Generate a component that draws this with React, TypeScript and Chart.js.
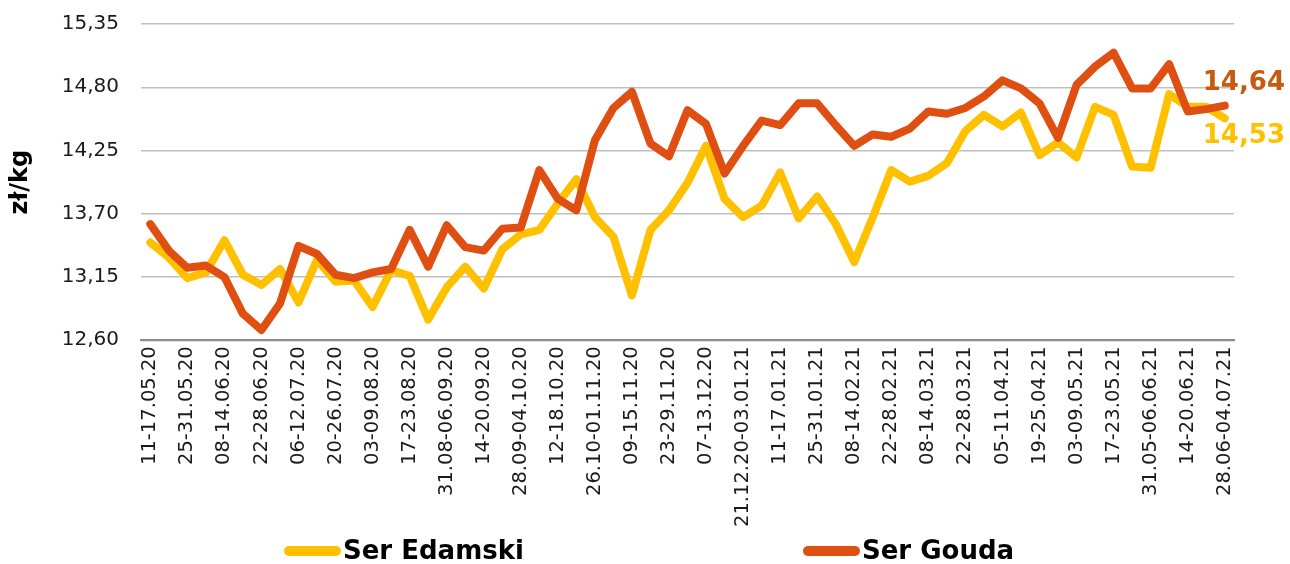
import React, { useEffect, useRef } from 'react';
import { Chart, registerables } from 'chart.js';

Chart.register(...registerables);

const weekLabels: string[] = [
  '11-17.05.20', '18-24.05.20', '25-31.05.20', '01-07.06.20', '08-14.06.20', '15-21.06.20',
  '22-28.06.20', '29.06-05.07.20', '06-12.07.20', '13-19.07.20', '20-26.07.20', '27.07-02.08.20',
  '03-09.08.20', '10-16.08.20', '17-23.08.20', '24-30.08.20', '31.08-06.09.20', '07-13.09.20',
  '14-20.09.20', '21-27.09.20', '28.09-04.10.20', '05-11.10.20', '12-18.10.20', '19-25.10.20',
  '26.10-01.11.20', '02-08.11.20', '09-15.11.20', '16-22.11.20', '23-29.11.20', '30.11-06.12.20',
  '07-13.12.20', '14-20.12.20', '21.12.20-03.01.21', '04-10.01.21', '11-17.01.21', '18-24.01.21',
  '25-31.01.21', '01-07.02.21', '08-14.02.21', '15-21.02.21', '22-28.02.21', '01-07.03.21',
  '08-14.03.21', '15-21.03.21', '22-28.03.21', '29.03-04.04.21', '05-11.04.21', '12-18.04.21',
  '19-25.04.21', '26.04-02.05.21', '03-09.05.21', '10-16.05.21', '17-23.05.21', '24-30.05.21',
  '31.05-06.06.21', '07-13.06.21', '14-20.06.21', '21-27.06.21', '28.06-04.07.21',
];

const serEdamski: number[] = [
  13.45, 13.32, 13.14, 13.19, 13.47, 13.17, 13.08, 13.22, 12.93, 13.30,
  13.11, 13.12, 12.89, 13.21, 13.16, 12.78, 13.06, 13.24, 13.05, 13.39,
  13.52, 13.56, 13.79, 14.00, 13.67, 13.50, 12.99, 13.56, 13.73, 13.97,
  14.29, 13.83, 13.67, 13.77, 14.06, 13.66, 13.85, 13.61, 13.28, 13.67,
  14.08, 13.98, 14.03, 14.14, 14.42, 14.56, 14.46, 14.58, 14.21, 14.32,
  14.19, 14.63, 14.56, 14.11, 14.10, 14.74, 14.63, 14.63, 14.53,
];

const serGouda: number[] = [
  13.61, 13.38, 13.23, 13.25, 13.15, 12.83, 12.69, 12.92, 13.42, 13.35,
  13.17, 13.14, 13.19, 13.22, 13.56, 13.24, 13.60, 13.41, 13.38, 13.57,
  13.58, 14.08, 13.83, 13.73, 14.34, 14.62, 14.76, 14.31, 14.20, 14.60,
  14.48, 14.05, 14.29, 14.51, 14.47, 14.66, 14.66, 14.47, 14.29, 14.39,
  14.37, 14.44, 14.59, 14.57, 14.62, 14.72, 14.86, 14.79, 14.66, 14.36,
  14.82, 14.98, 15.10, 14.79, 14.79, 15.00, 14.59, 14.61, 14.64,
];

const yMin = 12.6;
const yMax = 15.35;
const yStep = 0.55;
const yTitle = 'zł/kg';
const seriesNames: string[] = ['Ser Edamski', 'Ser Gouda'];
const seriesColors: string[] = ['#FFC000', '#E04F12'];
const endLabelColors: string[] = ['#FFC000', '#C55A11'];

const FONT = '"DejaVu Sans", Verdana, sans-serif';
const fmt = (v: number) => v.toFixed(2).replace('.', ',');

const endLabelPlugin = {
  id: 'endLabels',
  afterDatasetsDraw(chart: any) {
    const ctx = chart.ctx;
    ctx.save();
    ctx.font = `bold 26px ${FONT}`;
    ctx.textAlign = 'left';
    ctx.textBaseline = 'middle';
    chart.data.datasets.forEach((ds: any, i: number) => {
      const meta = chart.getDatasetMeta(i);
      const pt = meta.data[meta.data.length - 1];
      const v = ds.data[ds.data.length - 1];
      const dy = i === 1 ? -22 : 18;
      ctx.fillStyle = endLabelColors[i];
      ctx.fillText(fmt(v), pt.x - 22, pt.y + dy);
    });
    ctx.restore();
  },
};

const legendPlugin = {
  id: 'bottomLegend',
  afterDraw(chart: any) {
    const ctx = chart.ctx;
    const y = 551;
    const starts = [284, 803];
    ctx.save();
    ctx.font = `bold 26px ${FONT}`;
    ctx.textAlign = 'left';
    ctx.textBaseline = 'middle';
    chart.data.datasets.forEach((ds: any, i: number) => {
      const x = starts[i];
      ctx.strokeStyle = ds.borderColor;
      ctx.lineWidth = 10;
      ctx.lineCap = 'round';
      ctx.beginPath();
      ctx.moveTo(x + 5, y);
      ctx.lineTo(x + 52, y);
      ctx.stroke();
      ctx.fillStyle = '#000000';
      ctx.fillText(ds.label, x + 59, y + 1);
    });
    ctx.restore();
  },
};

export default function App() {
  const canvasRef = useRef<HTMLCanvasElement | null>(null);

  useEffect(() => {
    document.body.style.margin = '0';
    const canvas = canvasRef.current;
    if (!canvas) return;
    const chart = new Chart(canvas, {
      type: 'line',
      data: {
        labels: weekLabels,
        datasets: [
          {
            label: seriesNames[0],
            data: serEdamski,
            borderColor: seriesColors[0],
            backgroundColor: seriesColors[0],
            borderWidth: 8,
            pointRadius: 0,
            tension: 0,
            borderCapStyle: 'round',
            borderJoinStyle: 'round',
            order: 1,
          },
          {
            label: seriesNames[1],
            data: serGouda,
            borderColor: seriesColors[1],
            backgroundColor: seriesColors[1],
            borderWidth: 8,
            pointRadius: 0,
            tension: 0,
            borderCapStyle: 'round',
            borderJoinStyle: 'round',
            order: 0,
          },
        ],
      },
      options: {
        responsive: false,
        animation: false,
        maintainAspectRatio: false,
        layout: { padding: { top: 24, right: 56, bottom: 31, left: 0 } },
        plugins: {
          legend: { display: false },
          tooltip: { enabled: false },
        },
        scales: {
          x: {
            offset: true,
            grid: { display: false, drawTicks: false },
            border: { display: true, color: '#8C8C8C', width: 2 },
            ticks: {
              autoSkip: false,
              minRotation: 90,
              maxRotation: 90,
              padding: 6,
              color: '#1A1A1A',
              font: { family: FONT, size: 19.5 },
              callback: (_v: any, i: number) => (i % 2 === 0 ? weekLabels[i] : ''),
            },
          },
          y: {
            min: yMin,
            max: yMax,
            grid: {
              color: '#BFBFBF',
              lineWidth: 1.5,
              drawTicks: true,
              tickLength: 22,
              tickColor: 'rgba(0,0,0,0)',
            },
            border: { display: false },
            ticks: {
              stepSize: yStep,
              padding: 0,
              color: '#1A1A1A',
              font: { family: FONT, size: 20 },
              callback: (v: any) => fmt(Number(v)),
            },
            title: {
              display: true,
              text: yTitle,
              color: '#000000',
              font: { family: FONT, size: 24, weight: 'bold' },
              padding: { top: 6.6, bottom: 26.4 },
            },
          },
        },
      },
      plugins: [endLabelPlugin, legendPlugin],
    });
    return () => chart.destroy();
  }, []);

  return (
    <div style={{ width: 1290, height: 564 }}>
      <canvas ref={canvasRef} width={1290} height={564} style={{ display: 'block' }} />
    </div>
  );
}
